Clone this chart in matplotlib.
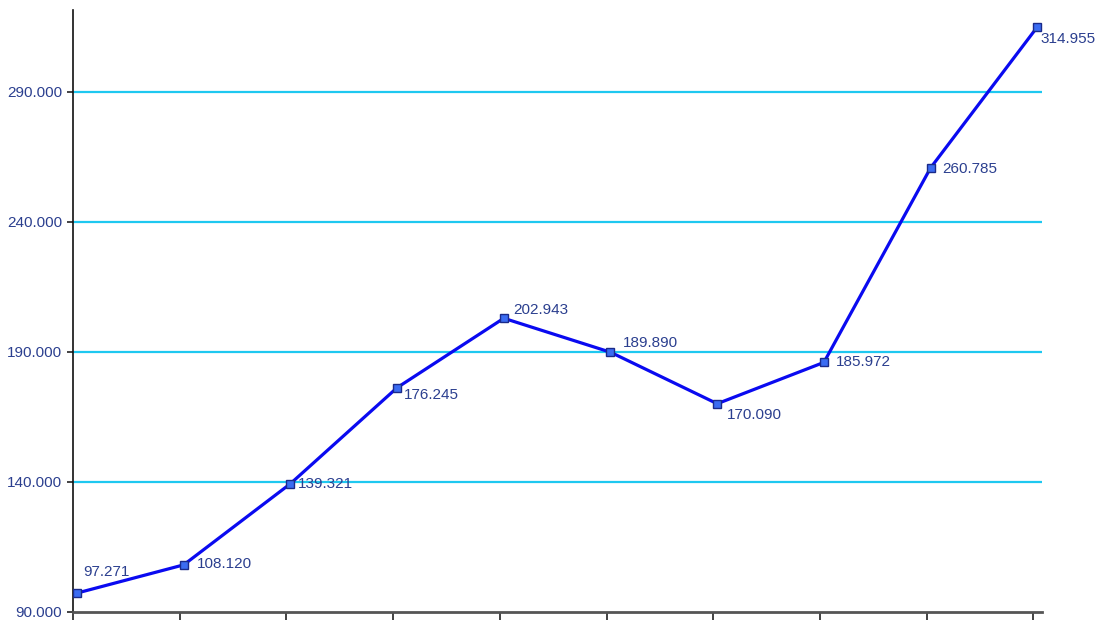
import matplotlib.pyplot as plt

# values (thousands separator is "." in the source)
periods = list(range(10))
values = [97271, 108120, 139321, 176245, 202943, 189890, 170090, 185972, 260785, 314955]
y_ticks = [90000, 140000, 190000, 240000, 290000]
# label offsets in pixels (dx, dy) relative to each point
label_offsets = [(6, 21), (13, 1), (8, 0), (7, -7), (9, 8), (12, 9), (10, -11), (12, 0), (12, -1), (3, -12)]

text_col = "#2b3f8f"

plt.rcParams['font.family'] = ['Liberation Sans', 'DejaVu Sans']

fig = plt.figure(figsize=(10.98, 6.21), dpi=100)
ax = fig.add_axes([0.0665, 0.0145, 0.8825, 0.9695])

for y in y_ticks[1:]:
    ax.axhline(y, color="#1ec8f0", lw=1.6, zorder=1)

ax.plot(periods, values, color="#0a0af0", lw=2.3, marker="s", ms=6,
        mfc="#3b6cf2", mec="#1a2a8a", mew=1.0, zorder=3)

def fmt(v):
    return f"{v:,}".replace(",", ".")

for x, v, (dx, dy) in zip(periods, values, label_offsets):
    ax.annotate(fmt(v), (x, v), xytext=(dx, dy), textcoords="offset pixels",
                ha="left", va="center", fontsize=11, color=text_col)

ax.set_xlim(-0.037, 9.044)
ax.set_ylim(90000, 321500)
ax.set_xticks([p - 0.037 for p in periods])
ax.set_xticklabels([])
ax.set_yticks(y_ticks)
ax.set_yticklabels([fmt(t) for t in y_ticks], color=text_col, fontsize=11)
ax.tick_params(axis="y", length=4, width=1.2, color="#222222", pad=4)
ax.tick_params(axis="x", length=6, width=1.2, color="#222222")

for s in ["top", "right"]:
    ax.spines[s].set_visible(False)
ax.spines["left"].set_color("#111111")
ax.spines["left"].set_linewidth(1.2)
ax.spines["bottom"].set_color("#555555")
ax.spines["bottom"].set_linewidth(2)

plt.savefig("out.png", dpi=100)
